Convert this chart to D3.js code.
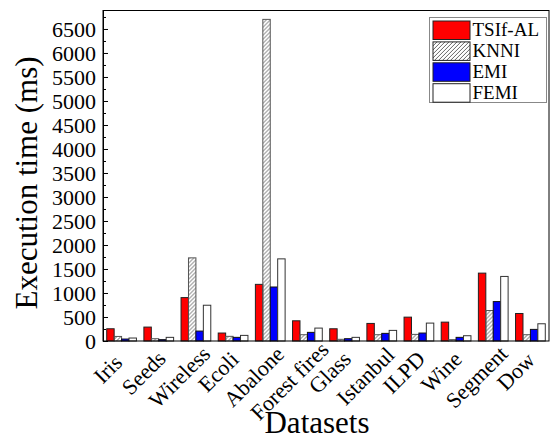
<!DOCTYPE html>
<html>
<head>
<meta charset="utf-8">
<script src="https://cdn.jsdelivr.net/npm/d3@7"></script>
<style>
  body { margin: 0; background: #fff; }
  svg { display: block; font-family: "Liberation Serif", "Times New Roman", serif; }
  .axis path, .axis line { stroke: #000; }
</style>
</head>
<body>
<div id="chart"></div>
<script>
// datasets on the x axis
var categories = ["Iris", "Seeds", "Wireless", "Ecoli", "Abalone", "Forest fires",
    "Glass", "Istanbul", "ILPD", "Wine", "Segment", "Dow"];

// execution time (ms) for each method
var series = ["TSIf-AL", "KNNI", "EMI", "FEMI"];
var tsifAL = [255, 290, 904, 166, 1180, 421, 255, 366, 497, 393, 1414, 573];
var knni = [95, 48, 1732, 97, 6700, 131, 35, 131, 138, 28, 635, 131];
var emi = [41, 28, 207, 76, 1125, 180, 48, 159, 166, 76, 821, 242];
var femi = [62, 76, 745, 117, 1711, 269, 76, 221, 373, 110, 1345, 359];

var yTicks = [0, 500, 1000, 1500, 2000, 2500, 3000, 3500, 4000, 4500, 5000, 5500, 6000, 6500];

var values = [tsifAL, knni, emi, femi];

var margin = {top: 10.5, right: 4, bottom: 98, left: 103},
    width = 553 - margin.left - margin.right,
    height = 439 - margin.top - margin.bottom;

var svg = d3.select("#chart").append("svg")
    .attr("width", 553)
    .attr("height", 439);

// hatch for KNNI
var defs = svg.append("defs");
defs.append("pattern")
    .attr("id", "hatch")
    .attr("patternUnits", "userSpaceOnUse")
    .attr("width", 4)
    .attr("height", 4)
    .append("path")
    .attr("d", "M-1,1 l2,-2 M0,4 l4,-4 M3,5 l2,-2")
    .attr("stroke", "#555")
    .attr("stroke-width", 0.9);

var fills = ["#ff0000", "url(#hatch)", "#0000ff", "#ffffff"];
var strokes = ["#222", "#555", "#111", "#333"];

var g = svg.append("g")
    .attr("transform", "translate(" + margin.left + "," + margin.top + ")");

var x = d3.scaleBand().domain(categories).range([0, width]);
var xs = d3.scaleBand().domain(series).range([0, x.bandwidth()]).paddingOuter(0.5);
var y = d3.scaleLinear().domain([0, 6885]).range([height, 0]);

// bars
var groups = g.selectAll(".grp")
    .data(categories)
    .enter().append("g")
    .attr("class", "grp")
    .attr("transform", function (d) { return "translate(" + x(d) + ",0)"; });

groups.selectAll("rect")
    .data(function (d, i) {
        return series.map(function (s, j) { return {s: s, j: j, v: values[j][i]}; });
    })
    .enter().append("rect")
    .attr("x", function (d) { return xs(d.s); })
    .attr("y", function (d) { return y(d.v); })
    .attr("width", xs.bandwidth())
    .attr("height", function (d) { return height - y(d.v); })
    .attr("fill", function (d) { return fills[d.j]; })
    .attr("stroke", function (d) { return strokes[d.j]; })
    .attr("stroke-width", 1);

// minor ticks
g.append("g")
    .attr("class", "axis")
    .call(d3.axisLeft(y)
        .tickValues(yTicks.map(function (t) { return t + 250; }))
        .tickSize(-3)
        .tickFormat(""))
    .select(".domain").remove();

// y axis
var yAxis = g.append("g")
    .attr("class", "axis")
    .call(d3.axisLeft(y)
        .tickValues(yTicks)
        .tickSize(-5)
        .tickSizeOuter(0)
        .tickPadding(7)
        .tickFormat(d3.format("d")));
yAxis.selectAll("text")
    .attr("font-size", 22)
    .attr("font-family", "Liberation Serif")
    .attr("fill", "#000");

// frame
g.append("rect")
    .attr("width", width)
    .attr("height", height)
    .attr("fill", "none")
    .attr("stroke", "#000")
    .attr("stroke-width", 1);

// x labels, rotated; longer labels sit a little lower and to the left
g.selectAll(".xlab")
    .data(categories)
    .enter().append("text")
    .attr("class", "xlab")
    .attr("text-anchor", "middle")
    .attr("dominant-baseline", "central")
    .attr("font-size", 22)
    .text(function (d) { return d; })
    .attr("transform", function (d) {
        var w = this.getComputedTextLength();
        var cx = x(d) + x.bandwidth() / 2 - 12 - 0.06 * w;
        var cy = height + 23 + 0.17 * w;
        return "translate(" + cx + "," + cy + ")rotate(-45)";
    });

// axis titles
svg.append("text")
    .attr("text-anchor", "middle")
    .attr("font-size", 31)
    .attr("transform", "translate(37,183)rotate(-90)")
    .text("Execution time (ms)");

svg.append("text")
    .attr("text-anchor", "middle")
    .attr("font-size", 31)
    .attr("x", 317)
    .attr("y", 433)
    .text("Datasets");

// legend
var legend = svg.append("g").attr("transform", "translate(429.5,17.5)");
legend.append("rect")
    .attr("width", 117)
    .attr("height", 85)
    .attr("fill", "#fff")
    .attr("stroke", "#888")
    .attr("stroke-width", 1);

var items = legend.selectAll(".item")
    .data(series)
    .enter().append("g")
    .attr("transform", function (d, i) { return "translate(3.5," + (3.5 + i * 20.9) + ")"; });

items.append("rect")
    .attr("width", 37)
    .attr("height", 18.5)
    .attr("fill", function (d, i) { return fills[i]; })
    .attr("stroke", "#222")
    .attr("stroke-width", 1);

items.append("text")
    .attr("x", 39.5)
    .attr("y", 15)
    .attr("font-size", 19)
    .text(function (d) { return d; });
</script>
</body>
</html>
